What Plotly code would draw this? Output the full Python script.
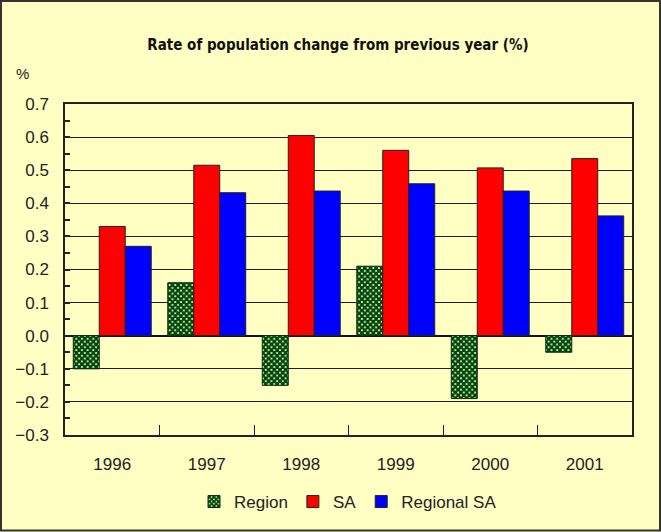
import plotly.graph_objects as go

years = ["1996", "1997", "1998", "1999", "2000", "2001"]
region = [-0.10, 0.16, -0.15, 0.21, -0.19, -0.05]
sa = [0.33, 0.515, 0.605, 0.56, 0.507, 0.535]
regional_sa = [0.27, 0.432, 0.437, 0.459, 0.437, 0.362]
y_ticks = [-0.3, -0.2, -0.1, 0.0, 0.1, 0.2, 0.3, 0.4, 0.5, 0.6, 0.7]

W, H = 661, 532
L, R, T, B = 65, 29, 104, 97
pw, ph = W - L - R, H - T - B

BG = "#FFFFC4"
FONT = "Liberation Sans, Arial, sans-serif"

fig = go.Figure()
fig.add_trace(go.Bar(
    x=years, y=region, name="Region",
    marker=dict(color="#FFFFFF",
                line=dict(color="#0a2a0a", width=1),
                pattern=dict(shape="x", fgcolor="#004800", bgcolor="#FFFFFF",
                             fgopacity=1, size=4, solidity=0.8, fillmode="overlay")),
))
fig.add_trace(go.Bar(
    x=years, y=sa, name="SA",
    marker=dict(color="#FF0000", line=dict(color="#222222", width=1)),
))
fig.add_trace(go.Bar(
    x=years, y=regional_sa, name="Regional SA",
    marker=dict(color="#0000FF", line=dict(color="#222222", width=1)),
))

def px_to_paper_x(px):
    return (px - L) / pw

def py_to_paper_y(py):
    return (H - B - py) / ph

fig.update_layout(
    width=W, height=H,
    margin=dict(l=L, r=R, t=T, b=B, pad=0, autoexpand=False),
    paper_bgcolor=BG, plot_bgcolor=BG,
    barmode="group", bargap=0.175, bargroupgap=0,
    font=dict(family=FONT, size=17, color="#222222"),
    title=dict(text="<b>Rate of population change from previous year (%)</b>",
               font=dict(family="Liberation Sans Narrow, DejaVu Sans Condensed, Arial Narrow, sans-serif",
                         size=15, color="#111111"),
               x=338 / W, xanchor="center", xref="container",
               y=1 - 45 / H, yanchor="middle", yref="container"),
    legend=dict(orientation="h", x=px_to_paper_x(348), xanchor="center",
                y=py_to_paper_y(502), yanchor="middle",
                bgcolor="rgba(0,0,0,0)", font=dict(size=17, color="#222222"),
                traceorder="normal"),
    showlegend=True,
)

fig.update_xaxes(
    type="category", showline=True, linecolor="#222222", linewidth=1.5, mirror=True,
    ticks="inside", tickson="boundaries", ticklen=10, tickcolor="#222222", tickwidth=1,
    showgrid=False, tickfont=dict(size=17, color="#222222"), ticklabelstandoff=13,
)
fig.update_yaxes(
    range=[-0.3, 0.7], tickvals=y_ticks, tickformat=".1f",
    showline=True, linecolor="#222222", linewidth=1.5, mirror=True,
    ticks="inside", ticklen=5, tickcolor="#222222", tickwidth=1.5,
    showgrid=True, gridcolor="#1e1e1e", gridwidth=1,
    zeroline=True, zerolinecolor="#111111", zerolinewidth=1.5,
    minor=dict(dtick=0.05, ticks="inside", ticklen=5, tickcolor="#222222", showgrid=False),
    tickfont=dict(size=17, color="#222222"), ticklabelstandoff=11,
)

fig.add_annotation(text="%", x=px_to_paper_x(22), y=py_to_paper_y(73),
                   xref="paper", yref="paper", showarrow=False,
                   font=dict(size=15, color="#222222"), xanchor="center", yanchor="middle")

fig.add_shape(type="rect", xref="paper", yref="paper",
              x0=px_to_paper_x(1), x1=px_to_paper_x(660),
              y0=py_to_paper_y(530.5), y1=py_to_paper_y(1),
              line=dict(color="#333333", width=2), fillcolor="rgba(0,0,0,0)", layer="above")

fig.write_html("out.html", config={"displayModeBar": False},
               post_script="document.body.style.margin='0';document.body.style.padding='0';")
